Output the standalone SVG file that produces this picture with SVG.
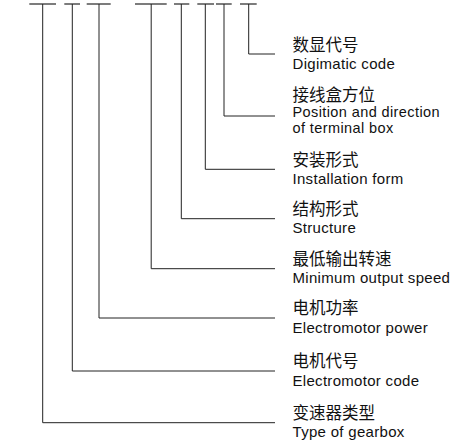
<svg xmlns="http://www.w3.org/2000/svg" width="456" height="447" viewBox="0 0 456 447">
<style>
.bar{stroke:#111;stroke-width:1.1;fill:none}
.con{stroke:#222;stroke-width:1;fill:none}
.zh{font-family:"Noto Sans CJK SC","Liberation Sans",sans-serif;font-size:16.5px;fill:#111}
.en{font-family:"Liberation Sans",Arial,sans-serif;font-size:15px;letter-spacing:0.3px;fill:#111}
.en2{font-family:"Liberation Sans",Arial,sans-serif;font-size:14.5px;letter-spacing:0.4px;fill:#111}
</style>
<rect width="456" height="447" fill="#fff"/>
<g id="code-segments">
<g id="seg1"><line class="bar" x1="29.3" y1="4" x2="56" y2="4"/></g>
<g id="seg2"><line class="bar" x1="64.3" y1="4" x2="80" y2="4"/></g>
<g id="seg3"><line class="bar" x1="86.7" y1="4" x2="110.7" y2="4"/></g>
<g id="seg4"><line class="bar" x1="135" y1="4" x2="166.7" y2="4"/></g>
<g id="seg5"><line class="bar" x1="174" y1="4" x2="189.3" y2="4"/></g>
<g id="seg6"><line class="bar" x1="197.3" y1="4" x2="214" y2="4"/></g>
<g id="seg7"><line class="bar" x1="216" y1="4" x2="231.7" y2="4"/></g>
<g id="seg8"><line class="bar" x1="240" y1="4" x2="256.7" y2="4"/></g>
</g>
<g id="connectors">
<polyline class="con" points="248.7,4 248.7,54 275,54"/>
<polyline class="con" points="224,4 224,116 275,116"/>
<polyline class="con" points="205.3,4 205.3,169.3 275,169.3"/>
<polyline class="con" points="181.3,4 181.3,218.7 275,218.7"/>
<polyline class="con" points="151.2,4 151.2,268.7 275,268.7"/>
<polyline class="con" points="99,4 99,318 275,318"/>
<polyline class="con" points="72.3,4 72.3,371 275,371"/>
<polyline class="con" points="42.7,4 42.7,422.7 275,422.7"/>
</g>
<g id="label-digimatic">
<text class="zh" x="292.5" y="50.5">数显代号</text>
<text class="en" x="292.5" y="68.5">Digimatic code</text>
</g>
<g id="label-terminal-box">
<text class="zh" x="292.5" y="100.5">接线盒方位</text>
<text class="en2" x="292.5" y="117">Position and direction</text>
<text class="en2" x="292.5" y="132.5">of terminal box</text>
</g>
<g id="label-installation">
<text class="zh" x="292.5" y="165.5">安装形式</text>
<text class="en" x="292.5" y="183.8">Installation form</text>
</g>
<g id="label-structure">
<text class="zh" x="292.5" y="215">结构形式</text>
<text class="en" x="292.5" y="233.2">Structure</text>
</g>
<g id="label-min-speed">
<text class="zh" x="292.5" y="265">最低输出转速</text>
<text class="en" x="292.5" y="283.2">Minimum output speed</text>
</g>
<g id="label-motor-power">
<text class="zh" x="292.5" y="314.2">电机功率</text>
<text class="en" x="292.5" y="332.5">Electromotor power</text>
</g>
<g id="label-motor-code">
<text class="zh" x="292.5" y="367.2">电机代号</text>
<text class="en" x="292.5" y="385.5">Electromotor code</text>
</g>
<g id="label-gearbox-type">
<text class="zh" x="292.5" y="419">变速器类型</text>
<text class="en" x="292.5" y="437.2">Type of gearbox</text>
</g>
</svg>
